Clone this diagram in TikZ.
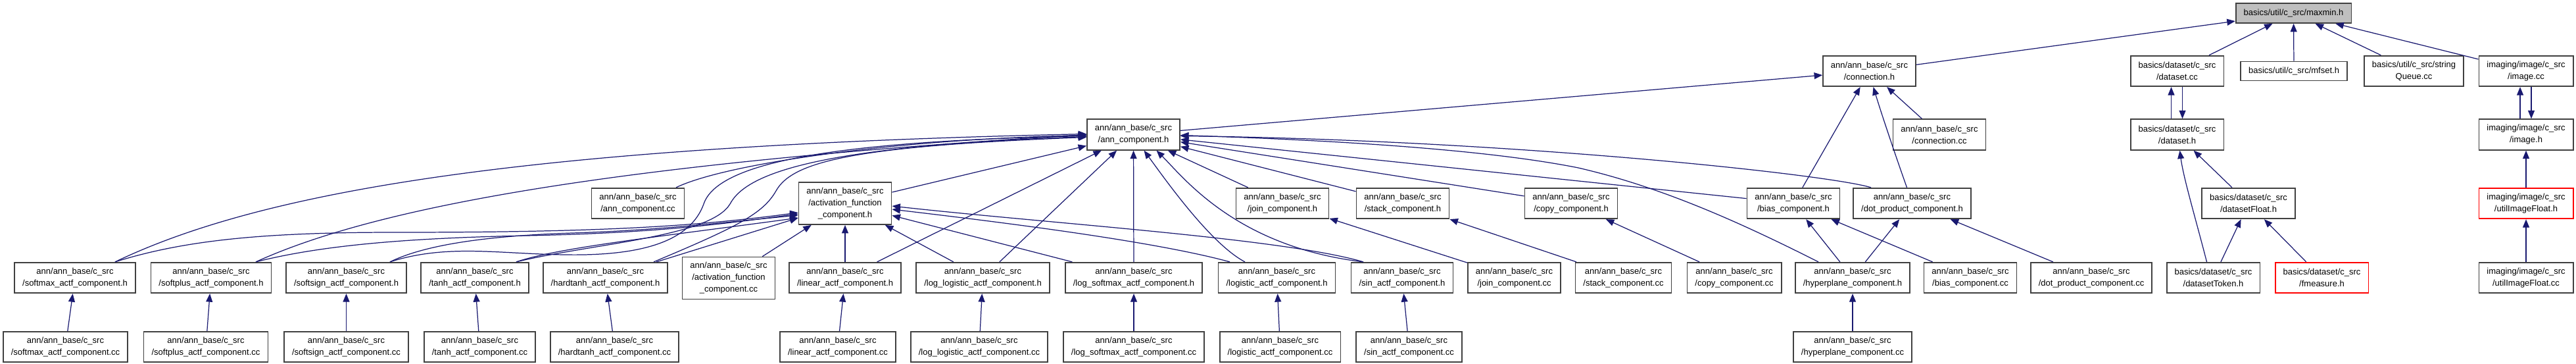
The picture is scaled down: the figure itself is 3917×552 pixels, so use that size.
\documentclass[tikz,border=0pt]{standalone}
\usepackage{fontspec}
\setmainfont{Liberation Sans}
\usepackage{xcolor}
\usepackage{tikz}
\usetikzlibrary{arrows.meta,calc}
\definecolor{edgeblue}{HTML}{191970}

\begin{document}
\begin{tikzpicture}[
    x=0.02cm, y=-0.02cm,
    font=\fontsize{7.4}{10.2}\selectfont,
    filebox/.style={rectangle, draw=black!75, fill=white, line width=1pt, align=center, inner xsep=0.24cm, inner ysep=1pt, minimum height=0.93cm},
    rootbox/.style={filebox, fill=black!25, minimum height=0.6cm},
    redbox/.style={filebox, draw=red},
    tallbox/.style={filebox, minimum height=1.28cm},
    incl/.style={-{Triangle[length=0.25cm, width=0.2cm]}, line width=0.7pt, draw=edgeblue}
]
    \useasboundingbox (0,0) rectangle (3917,552);

    % Row 1: the header itself
    \node (maxmin) at (3487.5, 20) [rootbox] {basics/util/c\_src/maxmin.h};

    % Row 2
    \node (connH) at (2842.5, 108) [filebox] {ann/ann\_base/c\_src\\/connection.h};
    \node (datasetCC) at (3310.5, 108) [filebox] {basics/dataset/c\_src\\/dataset.cc};
    \node (mfsetH) at (3488, 108) [filebox, minimum height=0.58cm] {basics/util/c\_src/mfset.h};
    \node (queueCC) at (3670.5, 108) [filebox] {basics/util/c\_src/string\\Queue.cc};
    \node (imageCC) at (3841, 108) [filebox] {imaging/image/c\_src\\/image.cc};

    % Row 3
    \node (annH) at (1723.5, 204.5) [filebox] {ann/ann\_base/c\_src\\/ann\_component.h};
    \node (connCC) at (2949, 204.5) [filebox] {ann/ann\_base/c\_src\\/connection.cc};
    \node (datasetH) at (3310.5, 204.5) [filebox] {basics/dataset/c\_src\\/dataset.h};
    \node (imageH) at (3841, 204.5) [filebox] {imaging/image/c\_src\\/image.h};

    % Row 4
    \node (annCC) at (970, 309) [filebox] {ann/ann\_base/c\_src\\/ann\_component.cc};
    \node (actfH) at (1285, 309) [tallbox] {ann/ann\_base/c\_src\\/activation\_function\\\_component.h};
    \node (joinH) at (1950, 309) [filebox] {ann/ann\_base/c\_src\\/join\_component.h};
    \node (stackH) at (2133, 309) [filebox] {ann/ann\_base/c\_src\\/stack\_component.h};
    \node (copyH) at (2389, 309) [filebox] {ann/ann\_base/c\_src\\/copy\_component.h};
    \node (biasH) at (2727, 309) [filebox] {ann/ann\_base/c\_src\\/bias\_component.h};
    \node (dotH) at (2907.5, 309) [filebox] {ann/ann\_base/c\_src\\/dot\_product\_component.h};
    \node (floatH) at (3419, 309) [filebox] {basics/dataset/c\_src\\/datasetFloat.h};
    \node (utilH) at (3841, 309) [redbox] {imaging/image/c\_src\\/utilImageFloat.h};

    % Row 5
    \node (softmaxH) at (114, 422) [filebox] {ann/ann\_base/c\_src\\/softmax\_actf\_component.h};
    \node (softplusH) at (321, 422) [filebox] {ann/ann\_base/c\_src\\/softplus\_actf\_component.h};
    \node (softsignH) at (526.5, 422) [filebox] {ann/ann\_base/c\_src\\/softsign\_actf\_component.h};
    \node (tanhH) at (722, 422) [filebox] {ann/ann\_base/c\_src\\/tanh\_actf\_component.h};
    \node (hardtanhH) at (920.5, 422) [filebox] {ann/ann\_base/c\_src\\/hardtanh\_actf\_component.h};
    \node (actfCC) at (1108, 422.5) [tallbox] {ann/ann\_base/c\_src\\/activation\_function\\\_component.cc};
    \node (linearH) at (1285, 422) [filebox] {ann/ann\_base/c\_src\\/linear\_actf\_component.h};
    \node (loglogH) at (1494.5, 422) [filebox] {ann/ann\_base/c\_src\\/log\_logistic\_actf\_component.h};
    \node (logsoftH) at (1724, 422) [filebox] {ann/ann\_base/c\_src\\/log\_softmax\_actf\_component.h};
    \node (logisticH) at (1941.5, 422) [filebox] {ann/ann\_base/c\_src\\/logistic\_actf\_component.h};
    \node (sinH) at (2132, 422) [filebox] {ann/ann\_base/c\_src\\/sin\_actf\_component.h};
    \node (joinCC) at (2302.5, 422) [filebox] {ann/ann\_base/c\_src\\/join\_component.cc};
    \node (stackCC) at (2468.5, 422) [filebox] {ann/ann\_base/c\_src\\/stack\_component.cc};
    \node (copyCC) at (2637, 422) [filebox] {ann/ann\_base/c\_src\\/copy\_component.cc};
    \node (hyperH) at (2817, 422) [filebox] {ann/ann\_base/c\_src\\/hyperplane\_component.h};
    \node (biasCC) at (2996, 422) [filebox] {ann/ann\_base/c\_src\\/bias\_component.cc};
    \node (dotCC) at (3180, 422) [filebox] {ann/ann\_base/c\_src\\/dot\_product\_component.cc};
    \node (tokenH) at (3365.5, 422) [filebox] {basics/dataset/c\_src\\/datasetToken.h};
    \node (fmeasureH) at (3530.5, 422) [redbox] {basics/dataset/c\_src\\/fmeasure.h};
    \node (utilCC) at (3841, 422) [filebox] {imaging/image/c\_src\\/utilImageFloat.cc};

    % Row 6
    \node (softmaxCC) at (99.5, 527) [filebox] {ann/ann\_base/c\_src\\/softmax\_actf\_component.cc};
    \node (softplusCC) at (313, 527) [filebox] {ann/ann\_base/c\_src\\/softplus\_actf\_component.cc};
    \node (softsignCC) at (526.5, 527) [filebox] {ann/ann\_base/c\_src\\/softsign\_actf\_component.cc};
    \node (tanhCC) at (729.5, 527) [filebox] {ann/ann\_base/c\_src\\/tanh\_actf\_component.cc};
    \node (hardtanhCC) at (934.5, 527) [filebox] {ann/ann\_base/c\_src\\/hardtanh\_actf\_component.cc};
    \node (linearCC) at (1274, 527) [filebox] {ann/ann\_base/c\_src\\/linear\_actf\_component.cc};
    \node (loglogCC) at (1489, 527) [filebox] {ann/ann\_base/c\_src\\/log\_logistic\_actf\_component.cc};
    \node (logsoftCC) at (1724, 527) [filebox] {ann/ann\_base/c\_src\\/log\_softmax\_actf\_component.cc};
    \node (logisticCC) at (1946.5, 527) [filebox] {ann/ann\_base/c\_src\\/logistic\_actf\_component.cc};
    \node (sinCC) at (2142.5, 527) [filebox] {ann/ann\_base/c\_src\\/sin\_actf\_component.cc};
    \node (hyperCC) at (2817, 527) [filebox] {ann/ann\_base/c\_src\\/hyperplane\_component.cc};

    % 1. Includers of maxmin.h
    \draw [incl] (connH) -- (maxmin);
    \draw [incl] (datasetCC) -- (maxmin);
    \draw [incl] (mfsetH) -- (maxmin);
    \draw [incl] (queueCC) -- (maxmin);
    \draw [incl] (imageCC) -- (maxmin);

    % 2. basics/dataset and imaging/image
    \draw [incl] ($(datasetH.north)+(-9,0)$) -- ($(datasetCC.south)+(-9,0)$);
    \draw [incl] ($(datasetCC.south)+(8,0)$) -- ($(datasetH.north)+(8,0)$);
    \draw [incl] ($(imageH.north)+(-9,0)$) -- ($(imageCC.south)+(-9,0)$);
    \draw [incl] ($(imageCC.south)+(8,0)$) -- ($(imageH.north)+(8,0)$);
    \draw [incl] (floatH) -- (datasetH);
    \draw [incl] ($(tokenH.north)+(-10,0)$) .. controls (3338,330) and (3320,270) .. ($(datasetH.south)+(4,0)$);
    \draw [incl] (tokenH) -- (floatH);
    \draw [incl] (fmeasureH) -- (floatH);
    \draw [incl] (utilH) -- (imageH);
    \draw [incl] (utilCC) -- (utilH);

    % 3. connection.h
    \draw [incl] (annH) -- (connH);
    \draw [incl] (connCC) -- (connH);
    \draw [incl] (biasH) -- (connH);
    \draw [incl] ($(dotH.north)+(-8,0)$) .. controls (2880,230) and (2860,170) .. ($(connH.south)+(6,0)$);

    % 4. ann_component.h from the left
    \draw [incl] ($(softmaxH.north)+(61,0)$) .. controls (400,290) and (800,222) .. ($(annH.west)+(0,-1)$);
    \draw [incl] ($(softplusH.north)+(68,0)$) .. controls (560,320) and (900,250) .. (annH.west);
    \draw [incl] ($(annCC.north)+(58,0)$) .. controls (1100,250) and (1350,212) .. ($(annH.west)+(0,1)$);
    \draw [incl] ($(softsignH.north)+(66.5,0)$) .. controls (680,370) and (760,386) .. (860,387) .. controls (980,389) and (1050,365) .. (1070,310) .. controls (1090,250) and (1250,215) .. ($(annH.west)+(0,2)$);
    \draw [incl] ($(tanhH.north)+(63,0)$) .. controls (900,370) and (1080,360) .. (1110,310) .. controls (1135,262) and (1250,222) .. ($(annH.west)+(0,3)$);
    \draw [incl] ($(hardtanhH.north)+(73.5,0)$) .. controls (1120,345) and (1160,325) .. (1180,290) .. controls (1205,245) and (1300,222) .. ($(annH.west)+(0,4)$);
    \draw [incl] (actfH) -- (annH);

    % 5. ann_component.h from below and from the right
    \draw [incl] (linearH) -- (annH);
    \draw [incl] (loglogH) -- (annH);
    \draw [incl] (logsoftH) -- (annH);
    \draw [incl] ($(logisticH.north)+(-48.5,0)$) .. controls (1840,370) and (1770,270) .. ($(annH.south)+(16,0)$);
    \draw [incl] ($(sinH.north)+(-59,0)$) .. controls (1880,375) and (1800,270) .. ($(annH.south)+(35,0)$);
    \draw [incl] (joinH) -- (annH);
    \draw [incl] (stackH) -- (annH);
    \draw [incl] (copyH) -- (annH);
    \draw [incl] (biasH) -- (annH);
    \draw [incl] ($(dotH.north)+(-62.5,0)$) .. controls (2780,265) and (2300,213) .. ($(annH.east)+(0,2)$);
    \draw [incl] ($(hyperH.north)+(-52,0)$) .. controls (2650,340) and (2530,285) .. (2400,255) .. controls (2250,225) and (2000,212) .. ($(annH.east)+(0,1)$);

    % 6. activation_function_component.h
    \draw [incl] ($(softmaxH.north)+(61,0)$) .. controls (280,365) and (400,353) .. (600,353) .. controls (900,353) and (1050,345) .. ($(actfH.west)+(0,14)$);
    \draw [incl] ($(softplusH.north)+(68,0)$) .. controls (480,375) and (600,362) .. (800,358) .. controls (1000,354) and (1100,340) .. ($(actfH.west)+(0,16)$);
    \draw [incl] ($(softsignH.north)+(66.5,0)$) .. controls (650,370) and (750,358) .. (870,354) .. controls (1000,350) and (1100,338) .. ($(actfH.west)+(0,18)$);
    \draw [incl] ($(tanhH.north)+(63,0)$) .. controls (850,376) and (1000,360) .. ($(actfH.west)+(0,22)$);
    \draw [incl] (hardtanhH) -- (actfH);
    \draw [incl] (actfCC) -- (actfH);
    \draw [incl] (linearH) -- (actfH);
    \draw [incl] (loglogH) -- (actfH);
    \draw [incl] (logsoftH) -- (actfH);
    \draw [incl] ($(logisticH.north)+(-71.5,0)$) .. controls (1750,365) and (1500,335) .. ($(actfH.east)+(0,9)$);
    \draw [incl] ($(sinH.north)+(-59,0)$) .. controls (1950,362) and (1600,340) .. ($(actfH.east)+(0,4)$);

    % 7. Remaining headers
    \draw [incl] (joinCC) -- (joinH);
    \draw [incl] (stackCC) -- (stackH);
    \draw [incl] (copyCC) -- (copyH);
    \draw [incl] (hyperH) -- (biasH);
    \draw [incl] (biasCC) -- (biasH);
    \draw [incl] (hyperH) -- (dotH);
    \draw [incl] (dotCC) -- (dotH);
    \draw [incl] (hyperCC) -- (hyperH);

    % 8. Sources of the activation functions
    \draw [incl] (softmaxCC) -- (softmaxH);
    \draw [incl] (softplusCC) -- (softplusH);
    \draw [incl] (softsignCC) -- (softsignH);
    \draw [incl] (tanhCC) -- (tanhH);
    \draw [incl] (hardtanhCC) -- (hardtanhH);
    \draw [incl] (linearCC) -- (linearH);
    \draw [incl] (loglogCC) -- (loglogH);
    \draw [incl] (logsoftCC) -- (logsoftH);
    \draw [incl] (logisticCC) -- (logisticH);
    \draw [incl] (sinCC) -- (sinH);

\end{tikzpicture}
\end{document}
